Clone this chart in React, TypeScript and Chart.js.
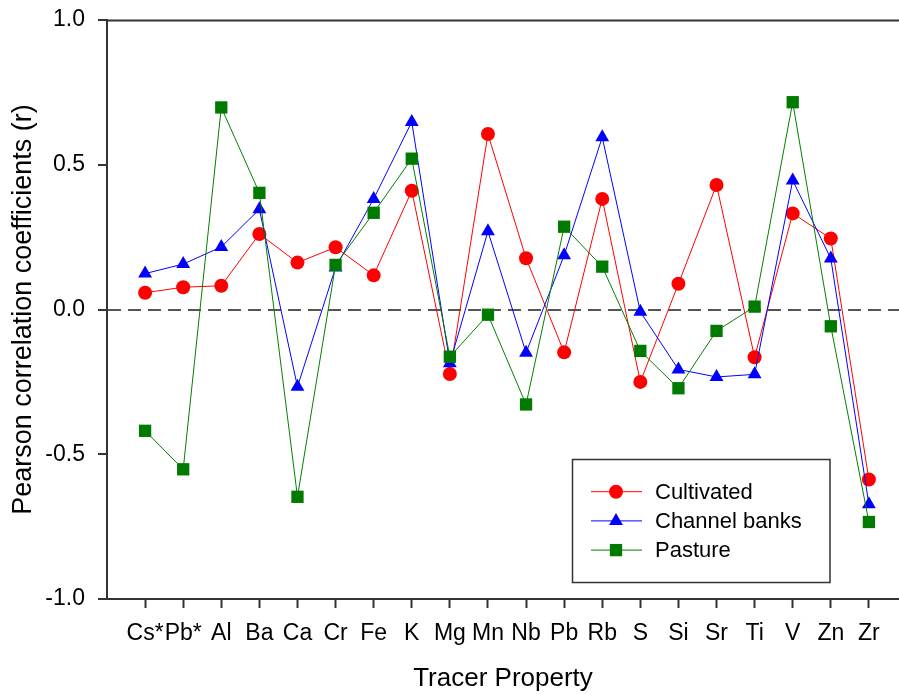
import React, { useEffect, useRef } from 'react';
import { Chart, registerables } from 'chart.js';
import { drawPoint } from 'chart.js/helpers';

Chart.register(...registerables);

const categories = ['Cs*', 'Pb*', 'Al', 'Ba', 'Ca', 'Cr', 'Fe', 'K', 'Mg', 'Mn', 'Nb', 'Pb', 'Rb', 'S', 'Si', 'Sr', 'Ti', 'V', 'Zn', 'Zr'];
const cultivated = [0.058, 0.077, 0.082, 0.261, 0.162, 0.215, 0.118, 0.41, -0.223, 0.606, 0.177, -0.148, 0.382, -0.25, 0.089, 0.43, -0.165, 0.332, 0.245, -0.587];
const channelBanks = [0.124, 0.157, 0.216, 0.346, -0.267, 0.145, 0.382, 0.648, -0.186, 0.27, -0.149, 0.187, 0.595, -0.008, -0.207, -0.233, -0.224, 0.446, 0.176, -0.673];
const pasture = [-0.419, -0.552, 0.698, 0.403, -0.647, 0.154, 0.334, 0.521, -0.163, -0.018, -0.328, 0.286, 0.148, -0.143, -0.272, -0.074, 0.01, 0.716, -0.058, -0.734];
const yTicks = [-1, -0.5, 0, 0.5, 1];

const FONT = '"Liberation Sans", Arial, sans-serif';

const toPoints = (vals: number[]) => vals.map((v, i) => ({ x: i + 1, y: v }));

const framePlugin = {
  id: 'frameTop',
  afterDraw(chart: any) {
    const { ctx, chartArea } = chart;
    ctx.save();
    ctx.strokeStyle = '#333';
    ctx.lineWidth = 2;
    ctx.beginPath();
    ctx.moveTo(chartArea.left, chartArea.top + 0.5);
    ctx.lineTo(chartArea.right, chartArea.top + 0.5);
    ctx.stroke();
    ctx.restore();
  },
};

const legendPlugin = {
  id: 'boxLegend',
  afterDraw(chart: any) {
    const ctx = chart.ctx;
    ctx.save();
    ctx.strokeStyle = '#333';
    ctx.lineWidth = 1.5;
    ctx.strokeRect(572.5, 459.5, 257.5, 123);
    chart.data.datasets.forEach((ds: any, i: number) => {
      const y = 491.7 + i * 29.2;
      ctx.strokeStyle = ds.borderColor;
      ctx.lineWidth = 1;
      ctx.beginPath();
      ctx.moveTo(591, y);
      ctx.lineTo(642, y);
      ctx.stroke();
      ctx.fillStyle = ds.pointBackgroundColor;
      drawPoint(ctx, { pointStyle: ds.pointStyle, radius: ds.pointRadius, borderWidth: 0, rotation: 0 } as any, 616, y);
      ctx.fillStyle = '#000';
      ctx.font = `22px ${FONT}`;
      ctx.textBaseline = 'middle';
      ctx.textAlign = 'left';
      ctx.fillText(ds.label, 655, y + 1);
    });
    ctx.restore();
  },
};

export default function App() {
  const ref = useRef<HTMLCanvasElement | null>(null);
  useEffect(() => {
    if (!ref.current) return;
    const chart = new Chart(ref.current, {
      type: 'line',
      data: {
        datasets: [
          {
            label: 'Cultivated',
            data: toPoints(cultivated),
            borderColor: '#ff0000',
            backgroundColor: '#ff0000',
            pointBackgroundColor: '#ff0000',
            pointStyle: 'circle',
            pointRadius: 7,
            pointBorderWidth: 0,
            borderWidth: 1,
            order: 2,
          },
          {
            label: 'Channel banks',
            data: toPoints(channelBanks),
            borderColor: '#0000ff',
            backgroundColor: '#0000ff',
            pointBackgroundColor: '#0000ff',
            pointStyle: 'triangle',
            pointRadius: 8,
            pointBorderWidth: 0,
            borderWidth: 1,
            order: 1,
          },
          {
            label: 'Pasture',
            data: toPoints(pasture),
            borderColor: '#008000',
            backgroundColor: '#008000',
            pointBackgroundColor: '#007a00',
            pointStyle: 'rect',
            pointRadius: 8.7,
            pointBorderWidth: 0,
            borderWidth: 1,
            order: 0,
          },
        ] as any,
      },
      options: {
        animation: false,
        responsive: true,
        maintainAspectRatio: false,
        layout: { autoPadding: false, padding: { top: 20, right: 0, left: 0, bottom: 0 } },
        plugins: {
          legend: { display: false },
          tooltip: { enabled: false },
        },
        scales: {
          x: {
            type: 'linear',
            min: 0,
            max: 20.79,
            afterBuildTicks: (scale: any) => {
              scale.ticks = categories.map((_, i) => ({ value: i + 1 }));
            },
            afterFit: (scale: any) => {
              scale.height = 95;
              scale.paddingRight = 0;
              scale.paddingLeft = 0;
            },
            grid: {
              drawOnChartArea: false,
              drawTicks: true,
              tickLength: 9,
              tickColor: '#333',
              tickWidth: 2,
            },
            border: { display: true, color: '#333', width: 2 },
            ticks: {
              autoSkip: false,
              maxRotation: 0,
              padding: 12,
              color: '#000',
              font: { family: FONT, size: 23 },
              callback: (v: any) => categories[Math.round(v) - 1] ?? '',
            },
            title: {
              display: true,
              text: 'Tracer Property',
              color: '#000',
              font: { family: FONT, size: 26 },
              padding: { top: 0, bottom: 0 },
            },
          },
          y: {
            type: 'linear',
            min: -1,
            max: 1,
            afterBuildTicks: (scale: any) => {
              scale.ticks = yTicks.map((v) => ({ value: v }));
            },
            afterFit: (scale: any) => {
              scale.width = 107;
              scale.paddingTop = 0;
              scale.paddingBottom = 0;
            },
            grid: {
              color: (c: any) => (c.tick && c.tick.value === 0 ? '#555' : 'rgba(0,0,0,0)'),
              lineWidth: 2,
              drawTicks: true,
              tickLength: 9,
              tickColor: '#333',
              tickWidth: 2,
            },
            border: { display: true, color: '#333', width: 2, dash: [13, 7] },
            ticks: {
              padding: 13,
              color: '#000',
              font: { family: FONT, size: 23 },
              callback: (v: any) => Number(v).toFixed(1),
            },
            title: {
              display: true,
              text: 'Pearson correlation coefficients (r)',
              color: '#000',
              font: { family: FONT, size: 27 },
              padding: { top: 7, bottom: 0 },
            },
          },
        },
      } as any,
      plugins: [framePlugin, legendPlugin],
    });
    return () => chart.destroy();
  }, []);
  return (
    <div style={{ position: 'fixed', left: 0, top: 0, width: 899, height: 694, background: '#fff' }}>
      <canvas ref={ref} />
    </div>
  );
}
